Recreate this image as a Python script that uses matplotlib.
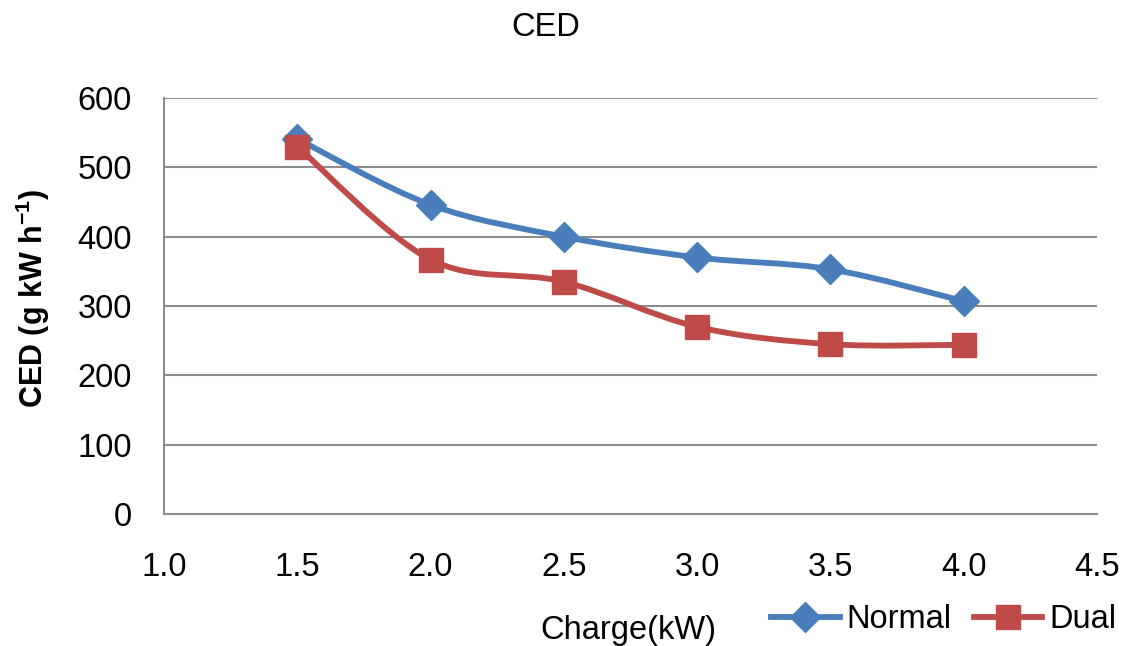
import numpy as np
import matplotlib.pyplot as plt
from matplotlib.path import Path
from matplotlib.patches import PathPatch
from matplotlib.lines import Line2D

plt.rcParams['font.family'] = ['Liberation Sans', 'DejaVu Sans']
plt.rcParams['mathtext.default'] = 'regular'

charge = [1.5, 2.0, 2.5, 3.0, 3.5, 4.0]
ced_normal = [541, 446, 400, 370, 353, 307]
ced_dual = [530, 367, 335, 270, 245, 244]

blue = '#4A7EBB'
red = '#BE4B48'
grid_col = '#8C8C8C'
fs = 23.5


def smooth_path(x, y):
    # Catmull-Rom style bezier segments, like a spreadsheet "smoothed line"
    pts = np.column_stack([x, y]).astype(float)
    n = len(pts)
    verts = [pts[0]]
    codes = [Path.MOVETO]
    for i in range(n - 1):
        p0 = pts[i - 1] if i > 0 else pts[i]
        p1 = pts[i]
        p2 = pts[i + 1]
        p3 = pts[i + 2] if i + 2 < n else pts[i + 1]
        c1 = p1 + (p2 - p0) / 6.0
        c2 = p2 - (p3 - p1) / 6.0
        verts += [c1, c2, p2]
        codes += [Path.CURVE4] * 3
    return Path(verts, codes)


fig = plt.figure(figsize=(11.3, 6.46), dpi=100)
ax = fig.add_axes([0.1451, 0.2043, 0.8257, 0.6440])

for xs, ys, col in [(charge, ced_normal, blue), (charge, ced_dual, red)]:
    ax.add_patch(PathPatch(smooth_path(xs, ys), fill=False, edgecolor=col,
                           lw=4.2, capstyle='round', joinstyle='round', zorder=3))

ax.plot(charge, ced_normal, linestyle='none', marker='D', ms=15,
        color=blue, zorder=4)
ax.plot(charge, ced_dual, linestyle='none', marker='s', ms=17.5,
        color=red, zorder=5)

ax.set_xlim(1.0, 4.5)
ax.set_ylim(0, 600)
ax.set_xticks(np.arange(1.0, 4.51, 0.5))
ax.set_xticklabels(['%.1f' % v for v in np.arange(1.0, 4.51, 0.5)])
ax.set_yticks(range(0, 601, 100))
ax.tick_params(axis='both', length=0, width=0, labelsize=fs)
ax.tick_params(axis='x', pad=27)
ax.tick_params(axis='y', pad=23)
ax.yaxis.grid(True, color=grid_col, lw=1.5)
ax.set_axisbelow(True)
for side in ['top', 'right']:
    ax.spines[side].set_visible(False)
for side in ['left', 'bottom']:
    ax.spines[side].set_color(grid_col)
    ax.spines[side].set_linewidth(1.5)

fig.text(546 / 1130, 1 - 27 / 646, 'CED', ha='center', va='center', fontsize=fs)
fig.text(628 / 1130, 1 - 630 / 646, 'Charge(kW)', ha='center', va='center', fontsize=fs)
fig.text(33 / 1130, 1 - 298 / 646, 'CED (g kW h$^{-1}$)', ha='center', va='center',
         rotation=90, fontsize=22, fontweight='bold')

handles = [Line2D([], [], color=blue, lw=4.2, marker='D', ms=15),
           Line2D([], [], color=red, lw=4.2, marker='s', ms=17.5)]
fig.legend(handles, ['Normal', 'Dual'], loc='center left',
           bbox_to_anchor=(771 / 1130, 1 - 620 / 646), ncol=2, frameon=False,
           fontsize=fs, handlelength=2.1, handletextpad=0.2, columnspacing=0.7,
           borderpad=0, borderaxespad=0)

fig.savefig('out.png', dpi=100)
